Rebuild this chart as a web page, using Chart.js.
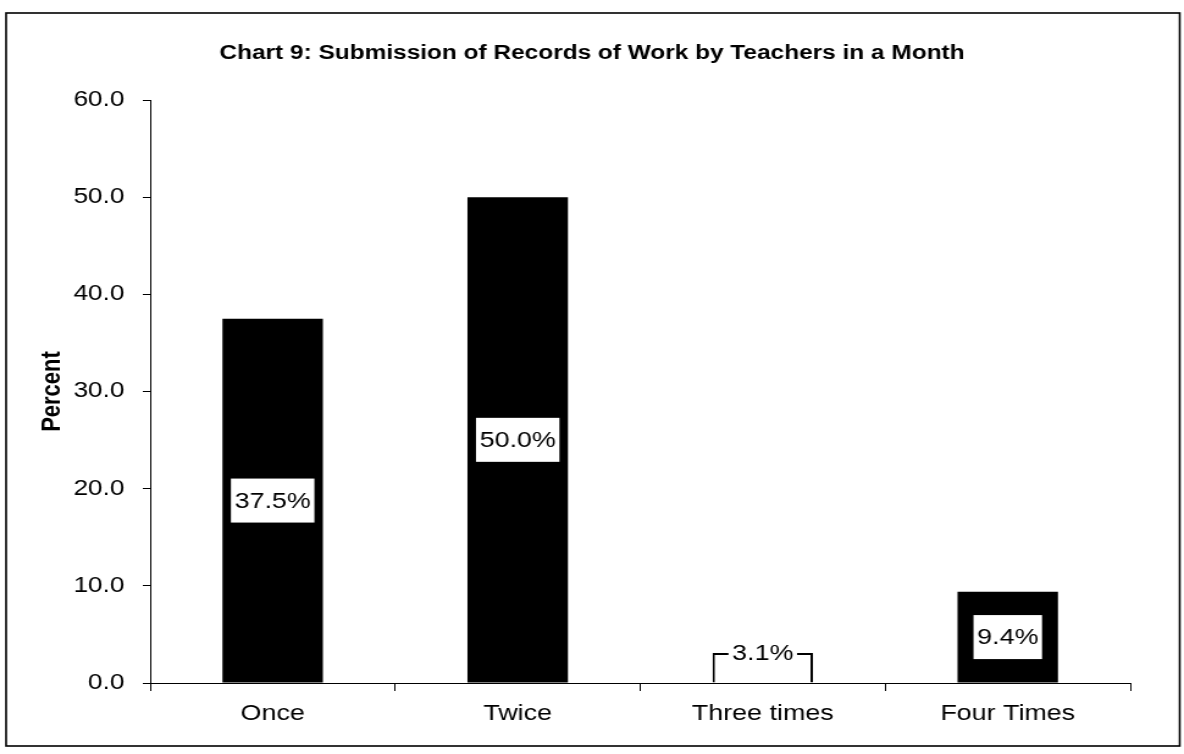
<!DOCTYPE html>
<html>
<head>
<meta charset="utf-8">
<script src="https://cdn.jsdelivr.net/npm/chart.js@4.4.1/dist/chart.umd.min.js"></script>
<style>
  html, body { margin: 0; padding: 0; background: #fff; overflow: hidden; }
  /* the original picture is stretched sideways, so draw narrower and stretch */
  #wrap { width: 970px; height: 754px; transform: scaleX(1.2206); transform-origin: 0 0; }
</style>
</head>
<body>
<div id="wrap"><canvas id="chart"></canvas></div>
<script>
const categories = ['Once', 'Twice', 'Three times', 'Four Times'];
const percents = [37.5, 50.0, 3.1, 9.4];
const yTicks = [0, 10, 20, 30, 40, 50, 60];

const FONT = "'Liberation Sans', Arial, sans-serif";

// white boxes with the value in the middle of each bar
const barLabels = {
  id: 'barLabels',
  afterDatasetsDraw(chart) {
    const ctx = chart.ctx;
    const meta = chart.getDatasetMeta(0);
    ctx.save();
    ctx.font = `22px ${FONT}`;
    ctx.textAlign = 'center';
    ctx.textBaseline = 'middle';
    meta.data.forEach((bar, i) => {
      const text = percents[i].toFixed(1) + '%';
      const w = ctx.measureText(text).width + 6;
      const h = 44;
      const cy = Math.min((bar.y + bar.base) / 2, bar.base - 30);
      ctx.fillStyle = '#fff';
      ctx.fillRect(bar.x - w / 2, cy - h / 2, w, h);
      ctx.fillStyle = '#000';
      ctx.fillText(text, bar.x, cy + 1);
    });
    ctx.restore();
  }
};

const frame = {
  id: 'frame',
  afterDraw(chart) {
    const ctx = chart.ctx;
    ctx.save();
    ctx.strokeStyle = '#000';
    ctx.lineWidth = 1.6;
    ctx.strokeRect(5, 13, 961.5, 733);
    ctx.restore();
  }
};

new Chart(document.getElementById('chart'), {
  type: 'bar',
  data: {
    labels: categories,
    datasets: [{
      data: percents,
      backgroundColor: ['#000', '#000', '#fff', '#000'],
      borderColor: '#000',
      borderWidth: [0, 0, 2, 0],
      borderSkipped: 'bottom',
      barPercentage: 0.41,
      categoryPercentage: 1
    }]
  },
  options: {
    responsive: true,
    maintainAspectRatio: false,
    animation: false,
    events: [],
    layout: { padding: { top: 20, left: 0, right: 0, bottom: 0 } },
    plugins: {
      legend: { display: false },
      tooltip: { enabled: false },
      title: {
        display: true,
        text: 'Chart 9: Submission of Records of Work by Teachers in a Month',
        color: '#000',
        font: { family: FONT, size: 20, weight: 'bold' },
        padding: { top: 21, bottom: 35 }
      }
    },
    scales: {
      x: {
        grid: { drawOnChartArea: false, tickLength: 8, color: '#000' },
        border: { color: '#000', width: 1 },
        ticks: { color: '#000', padding: 10, font: { family: FONT, size: 22 }, maxRotation: 0 },
        afterFit(scale) { scale.height = 71; }
      },
      y: {
        min: 0,
        max: 60,
        afterBuildTicks(scale) { scale.ticks = yTicks.map(v => ({ value: v })); },
        grid: { drawOnChartArea: false, tickLength: 6, color: '#000' },
        border: { color: '#000', width: 1 },
        ticks: {
          color: '#000',
          padding: 15,
          font: { family: FONT, size: 21.5 },
          callback: v => v.toFixed(1)
        },
        title: {
          display: true,
          text: 'Percent',
          color: '#000',
          font: { family: FONT, size: 22, weight: 'bold' },
          padding: { top: 30, bottom: 0 }
        },
        afterFit(scale) { scale.width = 123; }
      },
      // empty space on the right so the title stays centred on the whole frame
      spacer: {
        type: 'linear',
        position: 'right',
        grid: { display: false },
        border: { display: false },
        ticks: { display: false },
        afterFit(scale) { scale.width = 44; }
      }
    }
  },
  plugins: [barLabels, frame]
});
</script>
</body>
</html>
